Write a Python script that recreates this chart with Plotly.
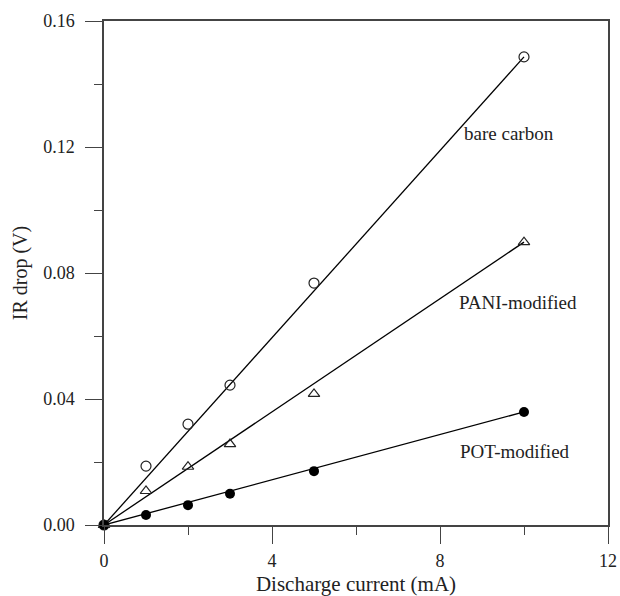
import plotly.graph_objects as go

current = [0, 1, 2, 3, 5, 10]
bare_carbon = [0.0, 0.0187, 0.032, 0.0444, 0.0768, 0.1486]
pani = [0.0, 0.0108, 0.0185, 0.0257, 0.0416, 0.0898]
pot = [0.0, 0.0032, 0.0063, 0.0099, 0.0171, 0.0359]

fit_x = [0, 10]
bare_fit = [0.0, 0.1486]
pani_fit = [0.0, 0.0898]
pot_fit = [0.0, 0.0359]

labels = ["bare carbon", "PANI-modified", "POT-modified"]
label_x = [9.64, 9.86, 9.79]
label_y = [0.1244, 0.0705, 0.0232]

FONT = "Liberation Serif, Times New Roman, serif"
fig = go.Figure()

for fy in (bare_fit, pani_fit, pot_fit):
    fig.add_trace(go.Scatter(x=fit_x, y=fy, mode="lines",
                             line=dict(color="black", width=1.3),
                             showlegend=False, hoverinfo="skip", cliponaxis=False))

fig.add_trace(go.Scatter(x=current, y=bare_carbon, mode="markers",
                         marker=dict(symbol="circle-open", size=10, color="#222",
                                     line=dict(width=1.2, color="#222")),
                         showlegend=False, cliponaxis=False))
fig.add_trace(go.Scatter(x=current, y=pani, mode="markers",
                         marker=dict(symbol="triangle-up-open", size=10, color="#222",
                                     line=dict(width=1.2, color="#222")),
                         showlegend=False, cliponaxis=False))
fig.add_trace(go.Scatter(x=current, y=pot, mode="markers",
                         marker=dict(symbol="circle", size=10, color="black"),
                         showlegend=False, cliponaxis=False))

for t, lx, ly in zip(labels, label_x, label_y):
    fig.add_annotation(x=lx, y=ly, text=t, showarrow=False,
                       font=dict(family=FONT, size=19, color="#222"))

axis_common = dict(showline=True, linecolor="#444", linewidth=1.5, mirror=True,
                   ticks="outside", ticklen=17, tickwidth=1.3, tickcolor="#444",
                   showgrid=False, zeroline=False, automargin=False,
                   tickfont=dict(family=FONT, size=18, color="#222"))

fig.update_xaxes(range=[0, 12], tickvals=[0, 4, 8, 12], ticktext=["0", "4", "8", "12"],
                 minor=dict(tickvals=[2, 6, 10], ticklen=8, tickwidth=1.3, tickcolor="#444", ticks="outside"),
                 ticklabelstandoff=2,
                 title=dict(text="Discharge current (mA)", font=dict(family=FONT, size=21, color="#222"), standoff=10),
                 **axis_common)
fig.update_yaxes(range=[0, 0.16], tickvals=[0, 0.04, 0.08, 0.12, 0.16],
                 ticktext=["0.00", "0.04", "0.08", "0.12", "0.16"],
                 minor=dict(tickvals=[0.02, 0.06, 0.10, 0.14], ticklen=8, tickwidth=1.3, tickcolor="#444", ticks="outside"),
                 ticklabelstandoff=7,
                 title=dict(text="IR drop (V)", font=dict(family=FONT, size=20, color="#222"), standoff=10),
                 **axis_common)

fig.update_layout(width=620, height=596, margin=dict(l=104, r=12, t=21, b=71),
                  plot_bgcolor="white", paper_bgcolor="white")

fig.write_html("out.html")
